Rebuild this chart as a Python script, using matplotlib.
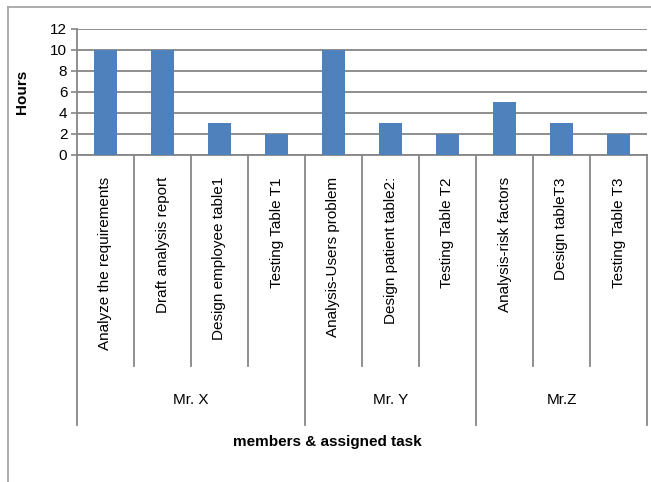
import matplotlib.pyplot as plt
from matplotlib.lines import Line2D
from matplotlib.transforms import blended_transform_factory

plt.rcParams['font.family'] = ['Liberation Sans', 'DejaVu Sans']

tasks = ['Analyze the requirements', 'Draft analysis report', 'Design employee table1',
         'Testing Table T1', 'Analysis-Users problem', 'Design patient table2:',
         'Testing Table T2', 'Analysis-risk factors', 'Design tableT3', 'Testing Table T3']
hours = [10, 10, 3, 2, 10, 3, 2, 5, 3, 2]
members = ['Mr. X', 'Mr. Y', 'Mr.Z']
group_sizes = [4, 3, 3]
yticks = [0, 2, 4, 6, 8, 10, 12]

W, H = 651, 482
GRID = '#868686'


def fy(px):
    return 1 - px / H


fig = plt.figure(figsize=(W / 100, H / 100), dpi=100)
ax = fig.add_axes([77 / W, fy(155), 570 / W, (155 - 28.7) / H])

x = list(range(len(tasks)))
ax.bar(x, hours, width=0.4, color='#4F81BD', zorder=3)
ax.set_xlim(-0.5, len(tasks) - 0.5)
ax.set_ylim(0, 12)
ax.set_yticks(yticks)
ax.tick_params(axis='y', labelsize=11, length=4, width=1.2, color=GRID, pad=3)
ax.set_xticks([])
ax.yaxis.grid(True, color=GRID, lw=1.3)
ax.set_axisbelow(True)
for s in ['top', 'right']:
    ax.spines[s].set_visible(False)
ax.spines['left'].set_color(GRID)
ax.spines['left'].set_linewidth(1.3)
ax.spines['bottom'].set_color(GRID)
ax.spines['bottom'].set_linewidth(1.3)

fig.text(22 / W, fy(92), 'Hours', rotation=90, ha='center', va='center',
         fontsize=11, fontweight='bold')

# category area below the axis
tr = blended_transform_factory(ax.transData, fig.transFigure)
bounds = [0]
for g in group_sizes:
    bounds.append(bounds[-1] + g)
for i in range(len(tasks) + 1):
    bottom = 425 if i in bounds else 366
    ax.add_line(Line2D([i - 0.5, i - 0.5], [fy(155), fy(bottom)], transform=tr,
                       color=GRID, lw=1.3, clip_on=False))
for i, t in enumerate(tasks):
    ax.text(i, fy(177), t, transform=tr, rotation=90, ha='center', va='top', fontsize=11)
for j, m in enumerate(members):
    c = (bounds[j] + bounds[j + 1]) / 2 - 0.5
    ax.text(c, fy(400), m, transform=tr, ha='center', va='center', fontsize=11)

fig.text(327 / W, fy(442), 'members & assigned task', ha='center', va='center',
         fontsize=11, fontweight='bold')

# outer chart frame
fig.add_artist(Line2D([8 / W, 8 / W], [fy(7), 0], color='#A6A6A6', lw=1.3))
fig.add_artist(Line2D([8 / W, 1], [fy(7), fy(7)], color='#A6A6A6', lw=1.3))

fig.savefig('out.png', dpi=100)
